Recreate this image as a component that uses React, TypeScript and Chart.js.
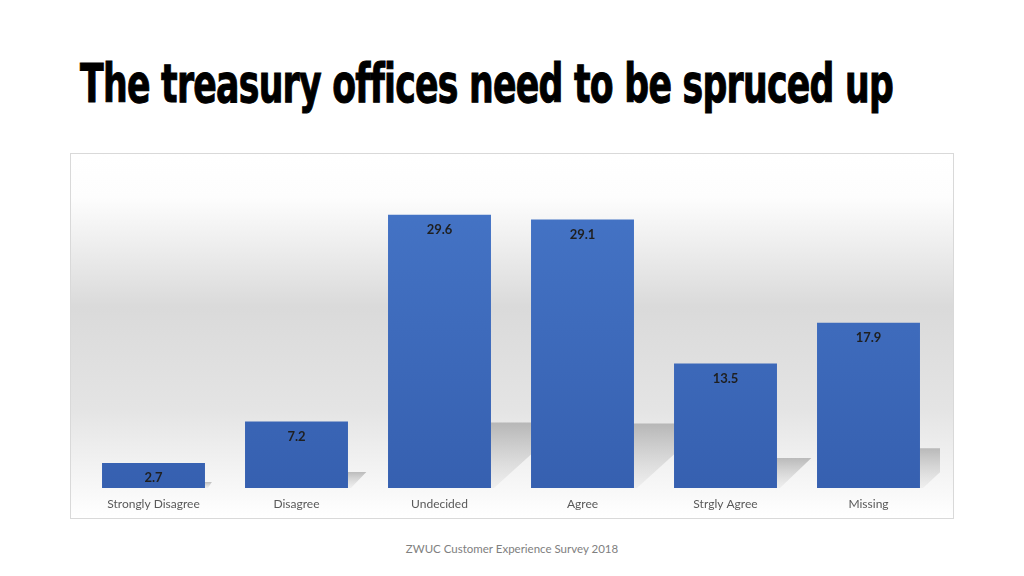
import { useEffect, useLayoutEffect, useRef, useState } from "react"
import { Chart, registerables, Plugin } from "chart.js"

Chart.register(...registerables)

const categories = ["Strongly Disagree", "Disagree", "Undecided", "Agree", "Strgly Agree", "Missing"]
const percentages = [2.7, 7.2, 29.6, 29.1, 13.5, 17.9]

const TITLE = "The treasury offices need to be spruced up"
const FOOTER = "ZWUC Customer Experience Survey 2018"

// soft grey band behind the bars
const backgroundPlugin: Plugin<"bar"> = {
  id: "panelBackground",
  beforeDraw(chart) {
    const { ctx, width, height } = chart
    const g = ctx.createLinearGradient(0, 0, 0, height)
    g.addColorStop(0, "#ffffff")
    g.addColorStop(0.12, "#fdfdfd")
    g.addColorStop(0.42, "#dadada")
    g.addColorStop(0.7, "#e4e4e4")
    g.addColorStop(0.9, "#f6f6f6")
    g.addColorStop(1, "#ffffff")
    ctx.save()
    ctx.fillStyle = g
    ctx.fillRect(0, 0, width, height)
    ctx.restore()
  },
}

// perspective shadow cast by each bar
const shadowPlugin: Plugin<"bar"> = {
  id: "barShadows",
  beforeDatasetsDraw(chart) {
    const { ctx, chartArea } = chart
    const meta = chart.getDatasetMeta(0)
    ctx.save()
    ctx.beginPath()
    ctx.rect(chartArea.left, chartArea.top, chartArea.right - chartArea.left, chartArea.bottom - chartArea.top)
    ctx.clip()
    meta.data.forEach((el: any) => {
      const { x, y, base, width } = el.getProps(["x", "y", "base", "width"], true)
      const h = (base - y) * 0.24
      const dx = h * 1.15
      const xL = x - width / 2
      const xR = x + width / 2
      const g = ctx.createLinearGradient(0, base - h, 0, base)
      g.addColorStop(0, "rgba(150,150,150,0.6)")
      g.addColorStop(1, "rgba(190,190,190,0.15)")
      ctx.fillStyle = g
      ctx.beginPath()
      ctx.moveTo(xL + dx, base - h)
      ctx.lineTo(xR + dx, base - h)
      ctx.lineTo(xR + 3, base)
      ctx.lineTo(xL, base)
      ctx.closePath()
      ctx.fill()
    })
    ctx.restore()
  },
}

// value labels inside the top of each bar
const labelPlugin: Plugin<"bar"> = {
  id: "insideLabels",
  afterDatasetsDraw(chart) {
    const { ctx } = chart
    const meta = chart.getDatasetMeta(0)
    ctx.save()
    ctx.font = "bold 13px Lato"
    ctx.fillStyle = "#1f1f1f"
    ctx.textAlign = "center"
    ctx.textBaseline = "middle"
    meta.data.forEach((el: any, i) => {
      ctx.fillText(percentages[i].toFixed(1), el.x, el.y + 15)
    })
    ctx.restore()
  },
}

function Title() {
  const ref = useRef<HTMLSpanElement>(null)
  const [scale, setScale] = useState(1)
  useLayoutEffect(() => {
    if (!ref.current) return
    const w = ref.current.getBoundingClientRect().width
    if (w > 0) setScale(813 / w)
  }, [])
  return (
    <span
      ref={ref}
      style={{
        position: "absolute",
        left: 80,
        top: 54,
        fontFamily: "'DejaVu Sans Condensed', 'DejaVu Sans', sans-serif",
        fontWeight: "bold",
        fontSize: 53,
        lineHeight: "60px",
        letterSpacing: -1,
        color: "#000",
        WebkitTextStroke: "1px #000",
        whiteSpace: "nowrap",
        transform: `scaleX(${scale})`,
        transformOrigin: "left top",
      }}
    >
      {TITLE}
    </span>
  )
}

export default function App() {
  const chartRef = useRef<HTMLCanvasElement>(null)
  const chartInstance = useRef<Chart | null>(null)

  useEffect(() => {
    if (!chartRef.current) return
    if (chartInstance.current) chartInstance.current.destroy()
    const ctx = chartRef.current.getContext("2d")
    if (!ctx) return

    chartInstance.current = new Chart(ctx, {
      type: "bar",
      data: {
        labels: categories,
        datasets: [
          {
            data: percentages,
            backgroundColor: (c: any) => {
              const area = c.chart.chartArea
              if (!area) return "#4472c4"
              const g = c.chart.ctx.createLinearGradient(0, area.top, 0, area.bottom)
              g.addColorStop(0, "#4676c8")
              g.addColorStop(1, "#3660b0")
              return g
            },
            barPercentage: 0.72,
            categoryPercentage: 1,
          },
        ],
      },
      options: {
        responsive: false,
        animation: false,
        layout: { padding: { left: 11, right: 13, top: 11, bottom: 0 } },
        plugins: {
          legend: { display: false },
          tooltip: { enabled: false },
        },
        scales: {
          x: {
            grid: { display: false, drawTicks: false },
            border: { display: false },
            ticks: {
              color: "#595959",
              font: { family: "Lato", size: 12 },
              padding: 9,
              maxRotation: 0,
            },
            afterFit: (scale: any) => {
              scale.height = 30
            },
          },
          y: {
            display: false,
            min: 0,
            max: 35,
          },
        },
      },
      plugins: [backgroundPlugin, shadowPlugin, labelPlugin],
    })

    return () => {
      if (chartInstance.current) {
        chartInstance.current.destroy()
        chartInstance.current = null
      }
    }
  }, [])

  return (
    <div style={{ position: "fixed", left: 0, top: 0, width: 1024, height: 576, background: "#fff", overflow: "hidden" }}>
      <Title />
      <div
        style={{
          position: "absolute",
          left: 70,
          top: 153,
          width: 884,
          height: 366,
          boxSizing: "border-box",
          border: "1px solid #d9d9d9",
        }}
      >
        <canvas ref={chartRef} width={882} height={364} style={{ display: "block" }} />
      </div>
      <div
        style={{
          position: "absolute",
          left: 0,
          width: 1024,
          top: 542,
          textAlign: "center",
          fontFamily: "Lato, sans-serif",
          fontSize: 11.5,
          color: "#808080",
        }}
      >
        {FOOTER}
      </div>
    </div>
  )
}
